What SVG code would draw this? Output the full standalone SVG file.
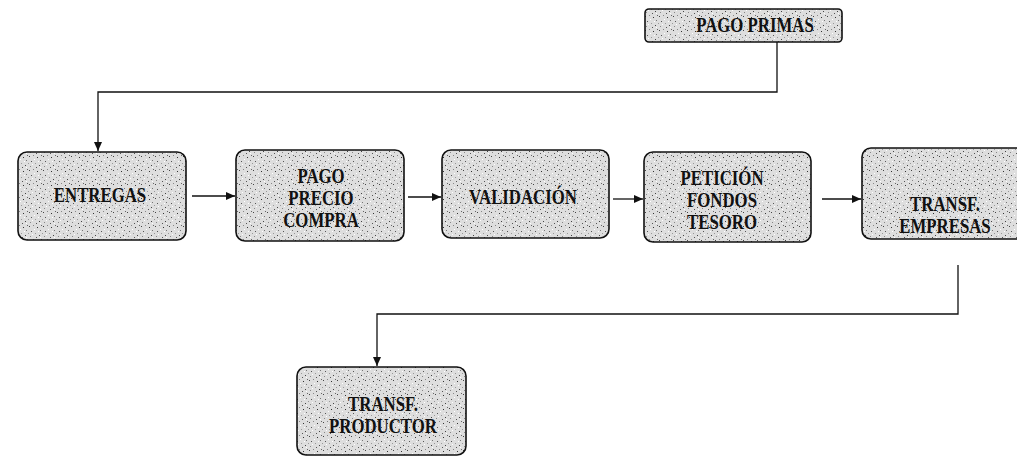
<svg xmlns="http://www.w3.org/2000/svg" width="1017" height="457" viewBox="0 0 1017 457">
<style>
.box{fill:url(#speckle);stroke:#111;stroke-width:1.6}
.lbl{font-family:"Liberation Serif","Times New Roman",serif;font-weight:bold;font-size:20px;fill:#111;text-anchor:middle}
.con{fill:none;stroke:#111;stroke-width:1.3}
</style>
<defs>
<pattern id="speckle" width="14" height="14" patternUnits="userSpaceOnUse">
<rect width="14" height="14" fill="#dedede"/>
<rect x="1" y="2" width="1" height="1" fill="#444"/>
<rect x="5" y="1" width="1" height="1" fill="#888"/>
<rect x="9" y="3" width="1" height="1" fill="#333"/>
<rect x="12" y="6" width="1" height="1" fill="#777"/>
<rect x="3" y="7" width="1" height="1" fill="#555"/>
<rect x="7" y="9" width="1" height="1" fill="#999"/>
<rect x="11" y="11" width="1" height="1" fill="#444"/>
<rect x="2" y="12" width="1" height="1" fill="#888"/>
<rect x="6" y="5" width="1" height="1" fill="#fff"/>
<rect x="13" y="1" width="1" height="1" fill="#666"/>
<rect x="8" y="13" width="1" height="1" fill="#555"/>
<rect x="0" y="9" width="1" height="1" fill="#999"/>
<rect x="4" y="10" width="1" height="1" fill="#fff"/>
<rect x="10" y="7" width="1" height="1" fill="#fff"/>
<rect x="12" y="13" width="1" height="1" fill="#fff"/>
</pattern>
<marker id="arr" markerWidth="9" markerHeight="8" refX="9" refY="4" orient="auto" markerUnits="userSpaceOnUse">
<path d="M0,0 L9,4 L0,8 Z" fill="#111"/>
</marker>
</defs>

<g id="connectors">
<polyline class="con" points="777,42 777,92 98,92 98,151" marker-end="url(#arr)"/>
<line class="con" x1="192" y1="196" x2="235" y2="196" marker-end="url(#arr)"/>
<line class="con" x1="408" y1="197" x2="441" y2="197" marker-end="url(#arr)"/>
<line class="con" x1="613" y1="199" x2="643" y2="199" marker-end="url(#arr)"/>
<line class="con" x1="822" y1="199" x2="861" y2="199" marker-end="url(#arr)"/>
<polyline class="con" points="958,265 958,314 377,314 377,366" marker-end="url(#arr)"/>
</g>

<g id="pago-primas">
<rect class="box" x="645" y="9" width="197" height="33" rx="4"/>
<g transform="translate(755,0) scale(0.84,1)"><text class="lbl" x="0" y="32">PAGO PRIMAS</text></g>
</g>

<g id="entregas">
<rect class="box" x="18" y="152" width="168" height="88" rx="9"/>
<g transform="translate(100,0) scale(0.84,1)"><text class="lbl" x="0" y="202">ENTREGAS</text></g>
</g>

<g id="pago-precio-compra">
<rect class="box" x="236" y="150" width="168" height="91" rx="9"/>
<g transform="translate(321,0) scale(0.84,1)">
<text class="lbl" x="0" y="183">PAGO</text>
<text class="lbl" x="0" y="205">PRECIO</text>
<text class="lbl" x="0" y="227">COMPRA</text>
</g>
</g>

<g id="validacion">
<rect class="box" x="442" y="150" width="167" height="88" rx="9"/>
<g transform="translate(523,0) scale(0.84,1)"><text class="lbl" x="0" y="204">VALIDACIÓN</text></g>
</g>

<g id="peticion">
<rect class="box" x="644" y="152" width="167" height="90" rx="9"/>
<g transform="translate(722,0) scale(0.84,1)">
<text class="lbl" x="0" y="185">PETICIÓN</text>
<text class="lbl" x="0" y="207">FONDOS</text>
<text class="lbl" x="0" y="229">TESORO</text>
</g>
</g>

<g id="transf-empresas">
<rect class="box" x="862" y="148" width="170" height="91" rx="9"/>
<g transform="translate(945,0) scale(0.84,1)">
<text class="lbl" x="0" y="211">TRANSF.</text>
<text class="lbl" x="0" y="233">EMPRESAS</text>
</g>
</g>

<g id="transf-productor">
<rect class="box" x="297" y="367" width="169" height="88" rx="9"/>
<g transform="translate(383,0) scale(0.84,1)">
<text class="lbl" x="0" y="411">TRANSF.</text>
<text class="lbl" x="0" y="433">PRODUCTOR</text>
</g>
</g>
</svg>
